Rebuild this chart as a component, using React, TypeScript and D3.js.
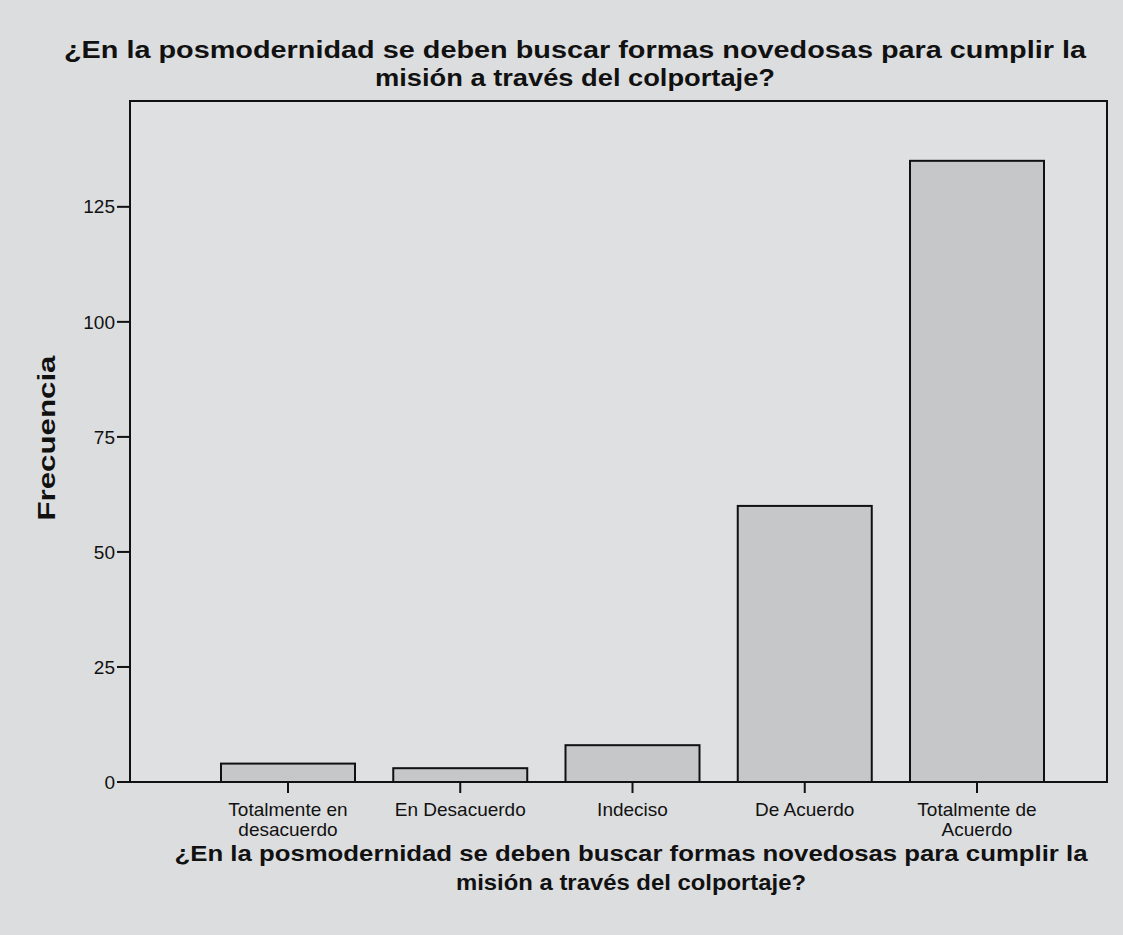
import React from "react";
import * as d3 from "d3";

const categories: string[][] = [
  ["Totalmente en", "desacuerdo"],
  ["En Desacuerdo"],
  ["Indeciso"],
  ["De Acuerdo"],
  ["Totalmente de", "Acuerdo"],
];
const frequencies: number[] = [4, 3, 8, 60, 135];
const yTicks: number[] = [0, 25, 50, 75, 100, 125];
const titleLines: string[] = [
  "¿En la posmodernidad se deben buscar formas novedosas para cumplir la",
  "misión a través del colportaje?",
];
const yLabel = "Frecuencia";

const W = 1123;
const H = 935;
const plot = { left: 130, right: 1107, top: 101, bottom: 782 };

export default function App() {
  const keys = categories.map((c) => c.join(" "));
  const x = d3.scalePoint<string>().domain(keys).range([288, 977]);
  const y = d3.scaleLinear().domain([0, 148]).range([plot.bottom, plot.top]);
  const barW = 134;
  const font = "'Liberation Sans', Arial, sans-serif";

  return (
    <div style={{ position: "absolute", left: 0, top: 0 }}>
      <svg width={W} height={H} style={{ display: "block", background: "#dcdddf" }} fontFamily={font}>
        <rect x={0} y={0} width={W} height={H} fill="#dcdddf" />
        {/* top title */}
        {titleLines.map((t, i) => (
          <text
            key={"t" + i}
            x={575}
            y={58 + i * 28}
            textAnchor="middle"
            fontSize={23}
            fontWeight="bold"
            fill="#111"
            textLength={i === 0 ? 1022 : 400}
            lengthAdjust="spacingAndGlyphs"
          >
            {t}
          </text>
        ))}
        {/* plot frame */}
        <rect
          x={plot.left}
          y={plot.top}
          width={plot.right - plot.left}
          height={plot.bottom - plot.top}
          fill="#dfe0e2"
          stroke="#111"
          strokeWidth={2}
        />
        {/* bars */}
        {frequencies.map((v, i) => (
          <rect
            key={"b" + i}
            x={(x(keys[i]) as number) - barW / 2}
            y={y(v)}
            width={barW}
            height={y(0) - y(v)}
            fill="#c6c7c9"
            stroke="#111"
            strokeWidth={2}
          />
        ))}
        {/* y ticks */}
        {yTicks.map((t) => (
          <g key={"y" + t}>
            <line x1={plot.left - 13} x2={plot.left} y1={y(t)} y2={y(t)} stroke="#111" strokeWidth={2} />
            <text x={plot.left - 15} y={y(t)} dy="0.35em" textAnchor="end" fontSize={19} fill="#111">
              {t}
            </text>
          </g>
        ))}
        {/* x ticks and labels */}
        {categories.map((c, i) => {
          const cx = x(keys[i]) as number;
          return (
            <g key={"x" + i}>
              <line x1={cx} x2={cx} y1={plot.bottom} y2={plot.bottom + 11} stroke="#111" strokeWidth={2} />
              {c.map((ln, j) => (
                <text key={j} x={cx} y={816 + j * 20} textAnchor="middle" fontSize={19} fill="#111">
                  {ln}
                </text>
              ))}
            </g>
          );
        })}
        {/* y axis label */}
        <text
          transform="translate(55,438) rotate(-90)"
          textAnchor="middle"
          fontSize={23}
          fontWeight="bold"
          fill="#111"
          textLength={165}
          lengthAdjust="spacingAndGlyphs"
        >
          {yLabel}
        </text>
        {/* x axis title */}
        {titleLines.map((t, i) => (
          <text
            key={"xt" + i}
            x={631}
            y={861 + i * 29}
            textAnchor="middle"
            fontSize={22}
            fontWeight="bold"
            fill="#111"
            textLength={i === 0 ? 913 : 350}
            lengthAdjust="spacingAndGlyphs"
          >
            {t}
          </text>
        ))}
      </svg>
    </div>
  );
}
